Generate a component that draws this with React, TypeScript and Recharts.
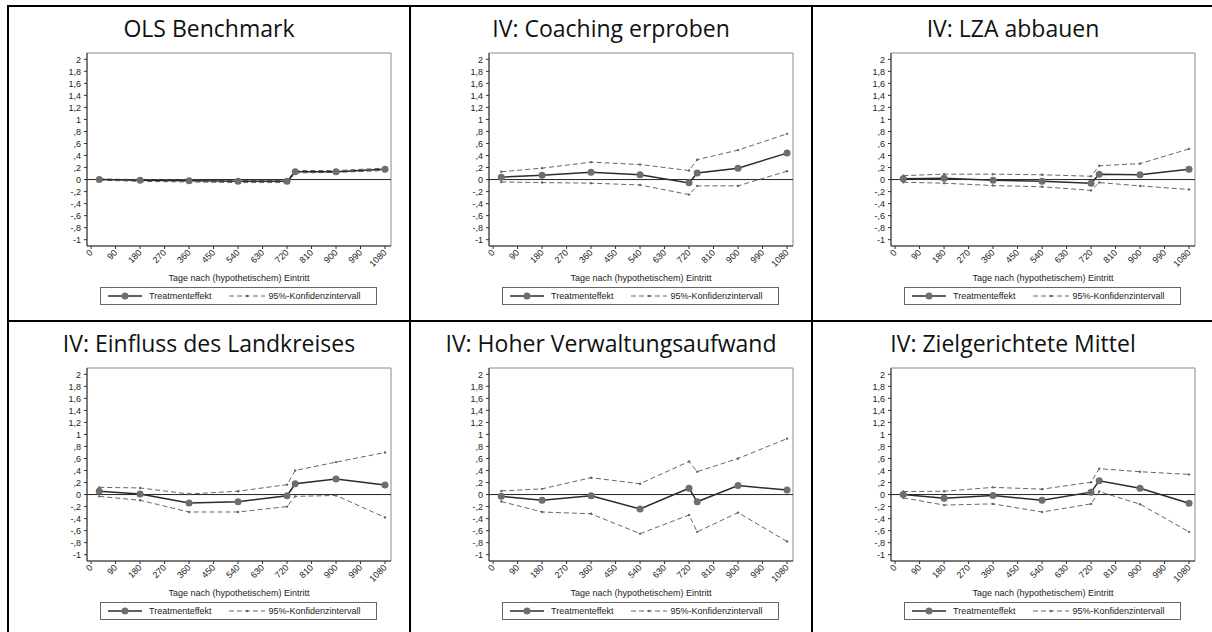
import { LineChart, Line, XAxis, YAxis, ReferenceLine, ReferenceArea, Legend } from "recharts";

// days after (hypothetical) entry
const days = [30, 180, 360, 540, 720, 750, 900, 1080];

const xTicks = [0, 90, 180, 270, 360, 450, 540, 630, 720, 810, 900, 990, 1080];
const yTicks = [-1, -0.8, -0.6, -0.4, -0.2, 0, 0.2, 0.4, 0.6, 0.8, 1, 1.2, 1.4, 1.6, 1.8, 2];
const yTickLabels = ["-1", "-,8", "-,6", "-,4", "-,2", "0", ",2", ",4", ",6", ",8", "1", "1,2", "1,4", "1,6", "1,8", "2"];

const titles = [
  "OLS Benchmark",
  "IV: Coaching erproben",
  "IV: LZA abbauen",
  "IV: Einfluss des Landkreises",
  "IV: Hoher Verwaltungsaufwand",
  "IV: Zielgerichtete Mittel",
];

const olsEffect = [0, -0.01, -0.02, -0.03, -0.03, 0.13, 0.13, 0.17];
const olsUpper = [0.01, 0.0, -0.01, -0.02, -0.02, 0.15, 0.15, 0.19];
const olsLower = [-0.01, -0.03, -0.04, -0.05, -0.05, 0.11, 0.12, 0.15];

const coachingEffect = [0.04, 0.07, 0.12, 0.08, -0.055, 0.11, 0.19, 0.44];
const coachingUpper = [0.13, 0.19, 0.29, 0.25, 0.15, 0.33, 0.49, 0.76];
const coachingLower = [-0.04, -0.05, -0.06, -0.09, -0.25, -0.105, -0.105, 0.14];

const lzaEffect = [0.015, 0.02, -0.01, -0.03, -0.06, 0.09, 0.08, 0.17];
const lzaUpper = [0.065, 0.09, 0.09, 0.08, 0.055, 0.23, 0.265, 0.51];
const lzaLower = [-0.045, -0.06, -0.1, -0.12, -0.18, -0.05, -0.105, -0.165];

const kreisEffect = [0.055, 0.01, -0.14, -0.12, -0.02, 0.18, 0.26, 0.16];
const kreisUpper = [0.12, 0.11, 0.01, 0.055, 0.165, 0.4, 0.54, 0.7];
const kreisLower = [-0.03, -0.095, -0.29, -0.29, -0.2, -0.03, -0.015, -0.38];

const verwaltungEffect = [-0.03, -0.095, -0.02, -0.24, 0.105, -0.12, 0.15, 0.075];
const verwaltungUpper = [0.06, 0.095, 0.28, 0.18, 0.55, 0.38, 0.6, 0.93];
const verwaltungLower = [-0.115, -0.29, -0.32, -0.65, -0.34, -0.62, -0.3, -0.78];

const mittelEffect = [0.0, -0.06, -0.015, -0.095, 0.04, 0.23, 0.105, -0.145];
const mittelUpper = [0.05, 0.055, 0.12, 0.09, 0.205, 0.43, 0.38, 0.335];
const mittelLower = [-0.055, -0.175, -0.155, -0.29, -0.155, 0.05, -0.16, -0.62];

const effects = [olsEffect, coachingEffect, lzaEffect, kreisEffect, verwaltungEffect, mittelEffect];
const uppers = [olsUpper, coachingUpper, lzaUpper, kreisUpper, verwaltungUpper, mittelUpper];
const lowers = [olsLower, coachingLower, lzaLower, kreisLower, verwaltungLower, mittelLower];

const xDomain = [-15, 1102];
const yDomain = [-1.105, 2.105];

const colX = [8, 410, 812];
const rowY = [6, 321];
const FONT = "'Liberation Sans', Arial, sans-serif";

function XTick({ x, y, payload }: any) {
  return (
    <text
      x={x}
      y={y}
      dy="0.35em"
      textAnchor="end"
      fontSize={9}
      fill="#222"
      fontFamily={FONT}
      transform={`rotate(-45 ${x} ${y})`}
    >
      {payload.value}
    </text>
  );
}

function PanelLegend() {
  return (
    <div
      style={{
        width: 277,
        height: 18,
        boxSizing: "border-box",
        border: "1px solid #666",
        background: "#fff",
        display: "flex",
        alignItems: "center",
        fontSize: 9,
        color: "#222",
        fontFamily: FONT,
        whiteSpace: "nowrap",
      }}
    >
      <svg width={34} height={10} style={{ marginLeft: 7 }}>
        <line x1={0} y1={5} x2={34} y2={5} stroke="#2b2b2b" strokeWidth={1.5} />
        <circle cx={17} cy={5} r={3.5} fill="#6e6e6e" />
      </svg>
      <span style={{ marginLeft: 7 }}>Treatmenteffekt</span>
      <svg width={36} height={10} style={{ marginLeft: 17 }}>
        <line x1={0} y1={5} x2={36} y2={5} stroke="#666" strokeWidth={1} strokeDasharray="5 3" />
        <circle cx={18} cy={5} r={1.2} fill="#666" />
      </svg>
      <span style={{ marginLeft: 4 }}>95%-Konfidenzintervall</span>
    </div>
  );
}

function Panel({ idx }: { idx: number }) {
  const rows = days.map((d, i) => ({
    day: d,
    effect: effects[idx][i],
    upper: uppers[idx][i],
    lower: lowers[idx][i],
  }));
  const left = colX[idx % 3];
  const top = rowY[Math.floor(idx / 3)];
  return (
    <div style={{ position: "absolute", left, top, width: 400, height: 314 }}>
      <div
        style={{
          position: "absolute",
          left: 0,
          top: 7,
          width: 402,
          textAlign: "center",
          fontFamily: "'Open Sans', sans-serif",
          fontSize: 23,
          lineHeight: "30px",
          color: "#111",
        }}
      >
        {titles[idx]}
      </div>
      <LineChart
        width={400}
        height={314}
        data={rows}
        margin={{ top: 47, right: 17, bottom: 39, left: 49 }}
        style={{ fontFamily: FONT }}
      >
        <ReferenceArea
          x1={xDomain[0]}
          x2={xDomain[1]}
          y1={yDomain[0]}
          y2={yDomain[1]}
          fill="none"
          stroke="#8a8a8a"
          strokeWidth={1}
          ifOverflow="visible"
        />
        <XAxis
          dataKey="day"
          type="number"
          domain={xDomain}
          ticks={xTicks}
          interval={0}
          allowDataOverflow
          tick={<XTick />}
          tickSize={3}
          tickMargin={2}
          stroke="#333"
          height={35}
          label={{
            value: "Tage nach (hypothetischem) Eintritt",
            position: "insideBottom",
            offset: 0,
            fontSize: 9,
            fill: "#222",
            fontFamily: FONT,
          }}
        />
        <YAxis
          type="number"
          domain={yDomain}
          ticks={yTicks}
          interval={0}
          allowDataOverflow
          tickFormatter={(v: number) => yTickLabels[yTicks.indexOf(v)]}
          tick={{ fontSize: 9, fill: "#222", fontFamily: FONT }}
          tickSize={3}
          tickMargin={3}
          width={30}
          stroke="#333"
        />
        <ReferenceLine y={0} stroke="#222" strokeWidth={1} />
        <Line
          dataKey="upper"
          stroke="#666"
          strokeWidth={1}
          strokeDasharray="5 3"
          dot={{ r: 1.2, fill: "#666", stroke: "none" }}
          activeDot={false}
          isAnimationActive={false}
        />
        <Line
          dataKey="lower"
          stroke="#666"
          strokeWidth={1}
          strokeDasharray="5 3"
          dot={{ r: 1.2, fill: "#666", stroke: "none" }}
          activeDot={false}
          isAnimationActive={false}
        />
        <Line
          dataKey="effect"
          stroke="#2b2b2b"
          strokeWidth={1.5}
          dot={{ r: 3.5, fill: "#6e6e6e", stroke: "none" }}
          activeDot={false}
          isAnimationActive={false}
        />
        <Legend
          layout="vertical"
          align="center"
          verticalAlign="middle"
          content={() => <PanelLegend />}
          wrapperStyle={{ left: 92, top: 281, width: 277 }}
        />
      </LineChart>
    </div>
  );
}

const border = "#000";

export default function App() {
  return (
    <div
      style={{
        position: "absolute",
        left: 0,
        top: 0,
        width: 1212,
        height: 632,
        overflow: "hidden",
        background: "#fff",
      }}
    >
      {/* table grid lines */}
      <div style={{ position: "absolute", left: 7, top: 5, width: 1300, height: 2, background: border }} />
      <div style={{ position: "absolute", left: 7, top: 320, width: 1300, height: 2, background: border }} />
      <div style={{ position: "absolute", left: 7, top: 5, width: 2, height: 700, background: border }} />
      <div style={{ position: "absolute", left: 409, top: 5, width: 2, height: 700, background: border }} />
      <div style={{ position: "absolute", left: 811, top: 5, width: 2, height: 700, background: border }} />
      {[0, 1, 2, 3, 4, 5].map((i) => (
        <Panel key={i} idx={i} />
      ))}
    </div>
  );
}
